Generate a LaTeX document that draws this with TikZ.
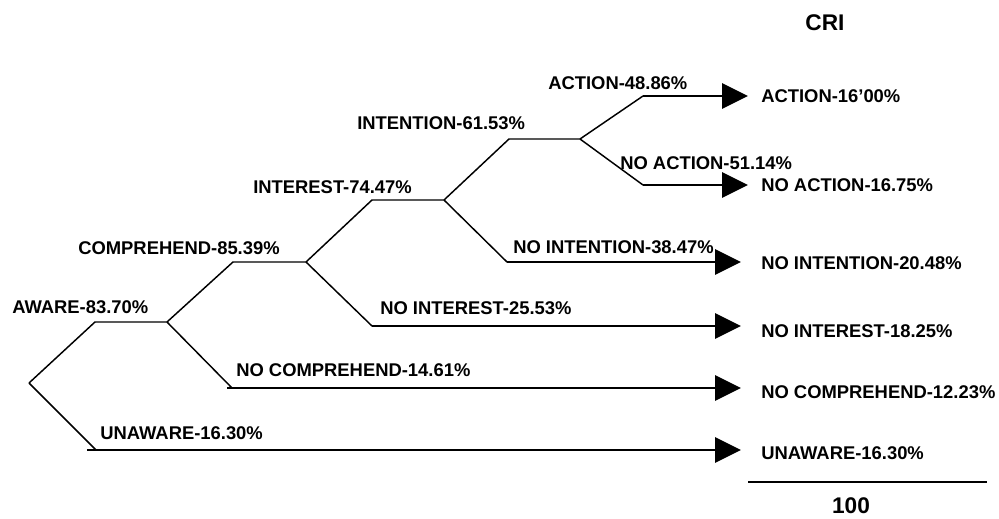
\documentclass[tikz,border=0pt]{standalone}
\usepackage{fontspec}
\setmainfont{Liberation Sans}
\usetikzlibrary{arrows.meta}

\begin{document}
\begin{tikzpicture}[x=0.75pt,y=0.75pt,yscale=-1,xscale=1,
  branch/.style={line width=1.1pt},
  outcome/.style={line width=1.4pt,-{Triangle[length=19.5pt,width=19pt]}},
  lbl/.style={anchor=west,inner sep=0pt,font=\fontsize{13.8}{16}\selectfont\bfseries},
  big/.style={inner sep=0pt,font=\fontsize{17}{20}\selectfont\bfseries}]
\useasboundingbox (0,0) rectangle (999,518);

%Tree points
\coordinate (root) at (29,383);
\coordinate (aw) at (95,322);
\coordinate (awE) at (167,322);
\coordinate (un) at (96,450);
\coordinate (unS) at (87,450);
\coordinate (co) at (233,262);
\coordinate (coE) at (306,262);
\coordinate (nco) at (232,388);
\coordinate (ncoS) at (227,388);
\coordinate (in) at (372,200);
\coordinate (inE) at (444,200);
\coordinate (nin) at (372,326);
\coordinate (it) at (509,139);
\coordinate (itE) at (580,139);
\coordinate (nit) at (507,262);
\coordinate (ac) at (643,96);
\coordinate (nac) at (643,185);

%Arrow tips
\coordinate (acT) at (748,96);
\coordinate (nacT) at (748,185);
\coordinate (nitT) at (741,262);
\coordinate (ninT) at (741,326);
\coordinate (ncoT) at (741,388);
\coordinate (unT) at (741,450);

%Branches
\draw [branch] (root) -- (aw) -- (awE);
\draw [branch] (root) -- (un);
\draw [branch] (awE) -- (co) -- (coE);
\draw [branch] (awE) -- (nco);
\draw [branch] (coE) -- (in) -- (inE);
\draw [branch] (coE) -- (nin);
\draw [branch] (inE) -- (it) -- (itE);
\draw [branch] (inE) -- (nit);
\draw [branch] (itE) -- (ac);
\draw [branch] (itE) -- (nac);

%Outcome arrows
\draw [outcome] (ac) -- (acT);
\draw [outcome] (nac) -- (nacT);
\draw [outcome] (nit) -- (nitT);
\draw [outcome] (nin) -- (ninT);
\draw [outcome] (ncoS) -- (ncoT);
\draw [outcome] (unS) -- (unT);

% Text Node
\node [lbl] (awL) at (12,307) {AWARE-83.70\%};
% Text Node
\node [lbl] (unL) at (100,433) {UNAWARE-16.30\%};
% Text Node
\node [lbl] (coL) at (78,248) {COMPREHEND-85.39\%};
% Text Node
\node [lbl] (ncoL) at (236,370) {NO COMPREHEND-14.61\%};
% Text Node
\node [lbl] (inL) at (253,187) {INTEREST-74.47\%};
% Text Node
\node [lbl] (ninL) at (380,308) {NO INTEREST-25.53\%};
% Text Node
\node [lbl] (itL) at (357,123) {INTENTION-61.53\%};
% Text Node
\node [lbl] (nitL) at (513,247) {NO INTENTION-38.47\%};
% Text Node
\node [lbl] (acL) at (548,83) {ACTION-48.86\%};
% Text Node
\node [lbl] (nacL) at (620,163) {NO ACTION-51.14\%};

% Text Node
\node [big] (cri) at (825,23) {CRI};
% Text Node
\node [lbl] (acR) at (761,96) {ACTION-16’00\%};
% Text Node
\node [lbl] (nacR) at (761,185) {NO ACTION-16.75\%};
% Text Node
\node [lbl] (nitR) at (761,263) {NO INTENTION-20.48\%};
% Text Node
\node [lbl] (ninR) at (761,331) {NO INTEREST-18.25\%};
% Text Node
\node [lbl] (ncoR) at (761,392) {NO COMPREHEND-12.23\%};
% Text Node
\node [lbl] (unR) at (761,453) {UNAWARE-16.30\%};

%Sum line
\coordinate (sumA) at (748,482);
\coordinate (sumB) at (987,482);
\draw [line width=1.1pt] (sumA) -- (sumB);
% Text Node
\node [big] (total) at (851,506) {100};

\end{tikzpicture}
\end{document}
